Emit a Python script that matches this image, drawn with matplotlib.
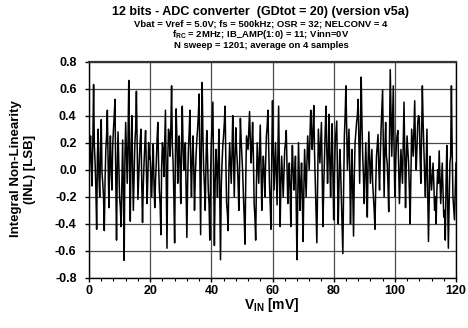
import numpy as np
import matplotlib
matplotlib.use("Agg")
import matplotlib.pyplot as plt
from matplotlib.ticker import MultipleLocator

plt.rcParams['font.family'] = ['Liberation Sans', 'DejaVu Sans']
plt.rcParams['font.weight'] = 'bold'
plt.rcParams['mathtext.fontset'] = 'custom'
plt.rcParams['mathtext.rm'] = 'Liberation Sans:bold'
plt.rcParams['mathtext.bf'] = 'Liberation Sans:bold'
plt.rcParams['mathtext.it'] = 'Liberation Sans:bold'

# V_IN read every 0.25 mV (approximate reading of the 1201-point sweep):
# inl holds the readings at 0, 0.5, 1.0 ... mV, inl_mid those at 0.25, 0.75 ... mV
vin_start, vin_step = 0.0, 0.25
inl = [
    # 0 - 20 mV
    -0.10, 0.25, -0.12, 0.63, 0.05, -0.44, 0.30, -0.20, 0.37, -0.10,
    -0.45, 0.15, 0.44, -0.28, 0.25, -0.15, 0.30, 0.52, -0.52, 0.28,
    -0.20, -0.42, 0.22, -0.67, 0.35, -0.10, 0.66, -0.38, 0.40, -0.30,
    0.20, 0.58, -0.22, 0.10, 0.30, -0.39, 0.05, 0.29, -0.25, 0.20,
    # 20 - 40 mV
    0.10, -0.20, 0.19, -0.28, 0.05, 0.35, -0.15, -0.48, 0.20, -0.05,
    0.44, -0.58, 0.30, 0.10, 0.62, 0.05, -0.54, 0.45, -0.10, 0.25,
    -0.25, 0.47, 0.00, 0.20, -0.50, 0.15, 0.44, -0.20, 0.25, -0.30,
    0.10, 0.30, 0.56, -0.48, 0.645, 0.00, -0.30, 0.29, -0.15, -0.52,
    # 40 - 60 mV
    0.20, 0.50, -0.56, 0.15, -0.20, 0.30, -0.665, 0.05, 0.25, 0.47,
    -0.25, -0.45, 0.20, -0.10, 0.40, -0.20, 0.31, 0.05, -0.30, 0.38,
    0.10, -0.20, -0.55, 0.25, 0.15, 0.43, 0.05, 0.35, -0.25, -0.52,
    0.20, -0.10, 0.33, -0.30, 0.10, -0.20, 0.25, 0.44, -0.10, -0.44,
    # 60 - 80 mV
    0.51, -0.15, 0.20, -0.26, 0.47, -0.42, 0.10, -0.20, 0.15, 0.29,
    -0.25, 0.05, -0.42, 0.18, -0.15, 0.10, -0.665, 0.20, -0.30, 0.05,
    -0.53, 0.15, -0.20, 0.25, 0.00, 0.44, 0.15, 0.475, -0.10, -0.54,
    0.30, 0.05, 0.35, -0.42, 0.10, 0.47, -0.10, 0.41, -0.20, 0.34,
    # 80 - 100 mV
    -0.37, 0.20, 0.36, -0.40, 0.15, -0.20, -0.62, 0.25, 0.62, 0.00,
    0.30, -0.40, 0.15, -0.49, 0.20, 0.35, 0.52, -0.10, 0.685, 0.10,
    -0.25, 0.20, -0.35, 0.28, -0.10, 0.15, -0.20, -0.44, 0.10, 0.26,
    -0.15, 0.30, 0.59, -0.20, 0.35, 0.05, -0.31, 0.74, 0.10, 0.62,
    # 100 - 120 mV
    -0.20, 0.20, 0.29, -0.25, 0.15, -0.10, 0.50, -0.28, 0.25, 0.05,
    -0.40, 0.30, 0.10, 0.51, 0.00, 0.35, 0.38, -0.10, 0.62, 0.15,
    -0.20, 0.30, -0.53, 0.10, -0.15, 0.05, -0.30, -0.40, 0.00, 0.14,
    -0.25, 0.05, -0.35, -0.52, 0.18, -0.58, 0.05, 0.62, -0.20, -0.37,
    0.05,
]
inl_mid = [
    # 0 - 20 mV
    0.10, 0.05, 0.20, 0.18, -0.15, 0.10, -0.05, 0.12, -0.02, -0.20,
    -0.08, 0.25, 0.05, 0.08, -0.02, 0.18, 0.40, -0.05, 0.02, 0.05,
    -0.28, -0.10, -0.15, 0.10, 0.12, 0.20, 0.05, 0.15, 0.02, -0.05,
    0.30, 0.15, -0.05, 0.22, -0.10, -0.12, 0.18, 0.02, -0.05, 0.08,
    # 20 - 40 mV
    -0.05, 0.02, -0.10, -0.08, 0.22, 0.05, -0.25, 0.02, 0.15, 0.20,
    -0.10, 0.08, 0.25, 0.30, 0.18, -0.20, 0.12, 0.22, 0.10, 0.02,
    0.15, 0.18, 0.12, -0.15, -0.10, 0.28, 0.05, 0.08, 0.02, -0.05,
    0.22, 0.40, 0.02, 0.20, 0.25, -0.12, 0.05, 0.10, -0.25, -0.02,
    # 40 - 60 mV
    0.35, -0.05, -0.10, 0.02, 0.08, -0.20, -0.12, 0.18, 0.35, 0.05,
    -0.32, 0.02, 0.05, 0.12, 0.08, 0.10, 0.15, -0.10, 0.05, 0.22,
    -0.02, -0.35, -0.08, 0.20, 0.30, 0.22, 0.18, 0.10, -0.35, -0.10,
    0.05, 0.12, 0.02, -0.05, -0.02, 0.05, 0.32, 0.15, -0.25, 0.10,
    # 60 - 80 mV
    0.15, 0.02, -0.02, 0.10, 0.00, -0.10, -0.05, -0.02, 0.20, 0.02,
    -0.08, -0.15, -0.02, 0.00, -0.05, -0.25, -0.20, -0.05, -0.10, -0.22,
    -0.15, -0.02, 0.05, 0.12, 0.25, 0.28, 0.30, 0.12, -0.30, -0.10,
    0.18, 0.20, -0.05, -0.12, 0.30, 0.15, 0.12, 0.05, 0.10, 0.00,
    # 80 - 100 mV
    -0.05, 0.28, -0.05, -0.10, 0.02, -0.40, -0.15, 0.40, 0.30, 0.15,
    0.02, -0.10, -0.15, -0.05, 0.28, 0.40, 0.20, 0.30, 0.35, -0.05,
    -0.02, -0.05, 0.05, 0.08, 0.02, -0.10, -0.30, -0.12, 0.18, 0.02,
    0.10, 0.45, 0.15, 0.15, 0.10, -0.10, 0.25, 0.40, 0.35, 0.15,
    # 100 - 120 mV
    0.02, 0.25, 0.02, -0.05, 0.02, 0.18, 0.10, 0.05, 0.15, -0.15,
    -0.05, 0.20, 0.30, 0.15, 0.18, 0.40, 0.10, 0.25, 0.35, -0.05,
    0.05, -0.15, -0.20, -0.05, -0.05, -0.10, -0.20, -0.15, -0.10, -0.05,
    -0.10, -0.15, -0.30, -0.10, -0.20, -0.25, 0.10, 0.15, -0.28, -0.15,
]

values = []
for i, v in enumerate(inl):
    values.append(v)
    if i < len(inl_mid):
        values.append(inl_mid[i])
vin = np.arange(len(values)) * vin_step + vin_start

x_ticks = [0, 20, 40, 60, 80, 100, 120]
y_ticks = [-0.8, -0.6, -0.4, -0.2, 0.0, 0.2, 0.4, 0.6, 0.8]

title_lines = [
    "12 bits - ADC converter  (GDtot = 20) (version v5a)",
    "Vbat = Vref = 5.0V; fs = 500kHz; OSR = 32; NELCONV = 4",
    r"f$_{\mathbf{RC}}$ = 2MHz; IB_AMP(1:0) = 11; Vinn=0V",
    "N sweep = 1201; average on 4 samples",
]

fig = plt.figure(figsize=(4.68, 3.28), dpi=100)
ax = fig.add_axes([89/468, 1-278/328, (456-89)/468, (278-61.5)/328])

ax.plot(vin, values, color='black', lw=1.1, zorder=3)

ax.set_xlim(0, 120)
ax.set_ylim(-0.8, 0.8)
ax.set_xticks(x_ticks)
ax.set_yticks(y_ticks)
ax.set_yticklabels([f"{v:.1f}" for v in y_ticks])
ax.xaxis.set_minor_locator(MultipleLocator(4))
ax.grid(True, which='major', color='#4a4a4a', lw=0.9, zorder=1)
ax.tick_params(axis='both', which='major', direction='out', length=3,
               width=1, labelsize=9)
ax.tick_params(axis='y', pad=6)
ax.tick_params(axis='x', pad=2)
ax.tick_params(axis='x', which='minor', direction='out', length=2, width=0.8)
for lab in ax.get_xticklabels() + ax.get_yticklabels():
    lab.set_fontweight('bold')
for s in ax.spines.values():
    s.set_color('black')
    s.set_linewidth(1.0)
ax.spines['top'].set_color('#333333')
ax.spines['top'].set_linewidth(1.6)

fig.text(23/468, 1-169/328, "Integral Non-Linearity\n(INL) [LSB]", rotation=90,
         ha='center', va='center', fontsize=9.5, fontweight='bold', linespacing=1.15)
fig.text(272/468, 1-305/328, r"V$_{\mathbf{IN}}$ [mV]", ha='center', va='center',
         fontsize=10, fontweight='bold')

ys = [12, 24, 34.5, 45]
sizes = [9, 6.8, 6.8, 6.8]
for t, y, s in zip(title_lines, ys, sizes):
    fig.text(261/468, 1-y/328, t, ha='center', va='center', fontsize=s,
             fontweight='bold')

fig.savefig("out.png", dpi=100)
